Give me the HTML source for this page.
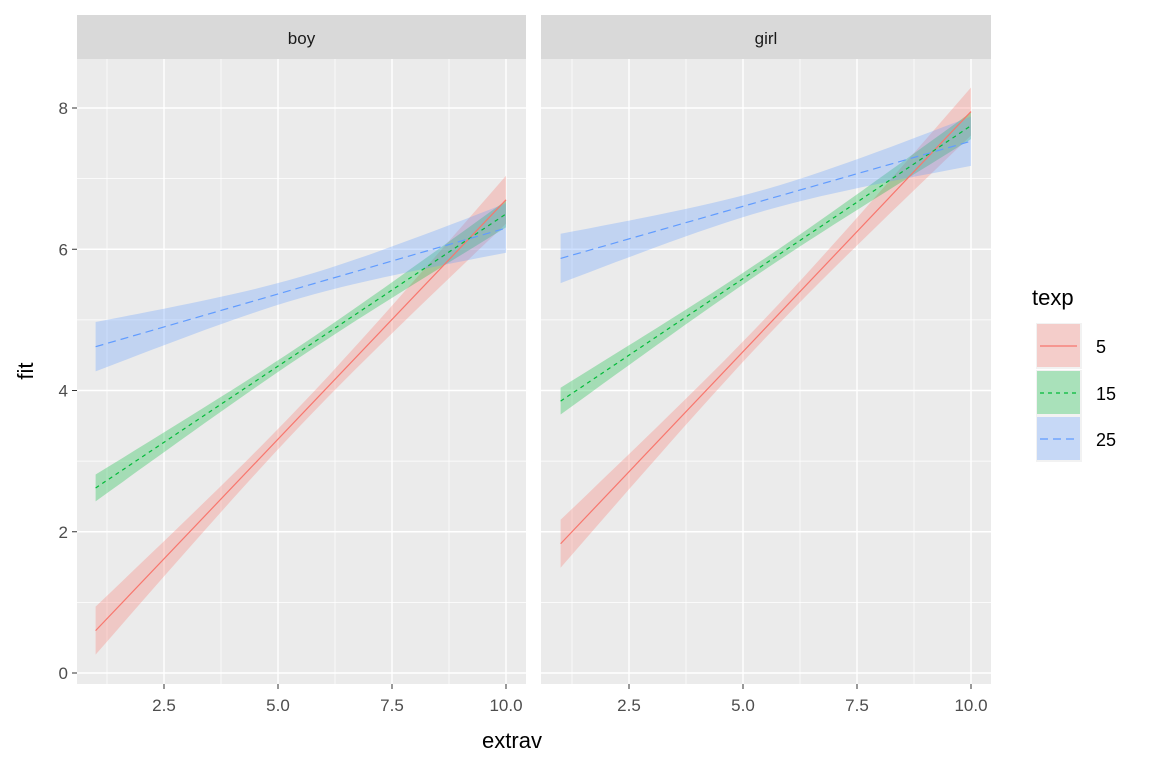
<!DOCTYPE html>
<html><head><style>body{margin:0;background:#fff}svg{display:block}text{font-family:"Liberation Sans",sans-serif}</style></head>
<body>
<svg id="s" width="1152" height="768" xmlns="http://www.w3.org/2000/svg"></svg>
<script>
const s=document.getElementById('s');let h='';
const Y=v=>673-v*70.625;
const panels=[{x0:77,x1:526,off:0,lab:'boy',d:[[0.6,6.7],[2.62,6.5],[4.62,6.3]]},
{x0:541,x1:991,off:465,lab:'girl',d:[[1.83,7.95],[3.85,7.75],[5.87,7.53]]}];
const cols=['#F8766D','#00BA38','#619CFF'],fills=['rgba(248,118,109,0.3)','rgba(0,186,56,0.3)','rgba(97,156,255,0.3)'];
const dash=['','4,4','8,5'];
const hw=[[0.34,0.14],[0.19,0.08],[0.35,0.15]];
for(const p of panels){
 const X=v=>95.6+(v-1)*45.6+p.off;
 h+=`<rect x="${p.x0}" y="59" width="${p.x1-p.x0}" height="625" fill="#EBEBEB"/>`;
 h+=`<rect x="${p.x0}" y="15" width="${p.x1-p.x0}" height="44" fill="#D9D9D9"/>`;
 h+=`<text x="${(p.x0+p.x1)/2}" y="44" font-size="17" fill="#1A1A1A" text-anchor="middle">${p.lab}</text>`;
 for(const v of [1,3,5,7])h+=`<line x1="${p.x0}" x2="${p.x1}" y1="${Y(v)}" y2="${Y(v)}" stroke="#fff" stroke-width="0.7"/>`;
 for(const v of [1.25,3.75,6.25,8.75])h+=`<line y1="59" y2="684" x1="${X(v)}" x2="${X(v)}" stroke="#fff" stroke-width="0.7"/>`;
 for(const v of [0,2,4,6,8])h+=`<line x1="${p.x0}" x2="${p.x1}" y1="${Y(v)}" y2="${Y(v)}" stroke="#fff" stroke-width="1.4"/>`;
 for(const v of [2.5,5,7.5,10]){h+=`<line y1="59" y2="684" x1="${X(v)}" x2="${X(v)}" stroke="#fff" stroke-width="1.4"/>`;
  h+=`<line y1="684" y2="689" x1="${X(v)}" x2="${X(v)}" stroke="#333" stroke-width="1"/>`;
  h+=`<text x="${X(v)}" y="711" font-size="17" fill="#4D4D4D" text-anchor="middle">${v.toFixed(1)}</text>`;}
 p.d.forEach((d,i)=>{
  const f=x=>d[0]+(d[1]-d[0])*(x-1)/9;
  const [e,c]=hw[i];let up=[],lo=[];
  for(let k=0;k<=30;k++){const x=1+9*k/30;const t=(x-5.5)/4.5;const w=Math.sqrt(c*c+(e*e-c*c)*t*t);
   up.push(X(x).toFixed(1)+','+Y(f(x)+w).toFixed(1));lo.unshift(X(x).toFixed(1)+','+Y(f(x)-w).toFixed(1));}
  h+=`<polygon points="${up.concat(lo).join(' ')}" fill="${fills[i]}"/>`;
 });
 p.d.forEach((d,i)=>{h+=`<line x1="${X(1)}" y1="${Y(d[0])}" x2="${X(10)}" y2="${Y(d[1])}" stroke="${cols[i]}" stroke-width="1.2" stroke-dasharray="${dash[i]}"/>`;});
}
for(const v of [0,2,4,6,8]){h+=`<line x1="72" x2="77" y1="${Y(v)}" y2="${Y(v)}" stroke="#333"/>`;
 h+=`<text x="68" y="${Y(v)+6}" font-size="17" fill="#4D4D4D" text-anchor="end">${v}</text>`;}
h+=`<text x="512" y="748" font-size="22" text-anchor="middle">extrav</text>`;
h+=`<text transform="translate(33,371) rotate(-90)" font-size="22" text-anchor="middle">fit</text>`;
h+=`<text x="1032" y="305" font-size="22">texp</text>`;
const ky=[323,370,416],lb=['5','15','25'];
ky.forEach((y,i)=>{h+=`<rect x="1036" y="${y}" width="46" height="46" fill="#F2F2F2"/><rect x="1037" y="${y+1}" width="43" height="43" fill="${fills[i]}"/>`;
 h+=`<line x1="1040" x2="1077" y1="${y+23}" y2="${y+23}" stroke="${cols[i]}" stroke-width="1.2" stroke-dasharray="${dash[i]}"/>`;
 h+=`<text x="1096" y="${y+30}" font-size="18">${lb[i]}</text>`;});
s.innerHTML=h;
</script>
</body></html>
